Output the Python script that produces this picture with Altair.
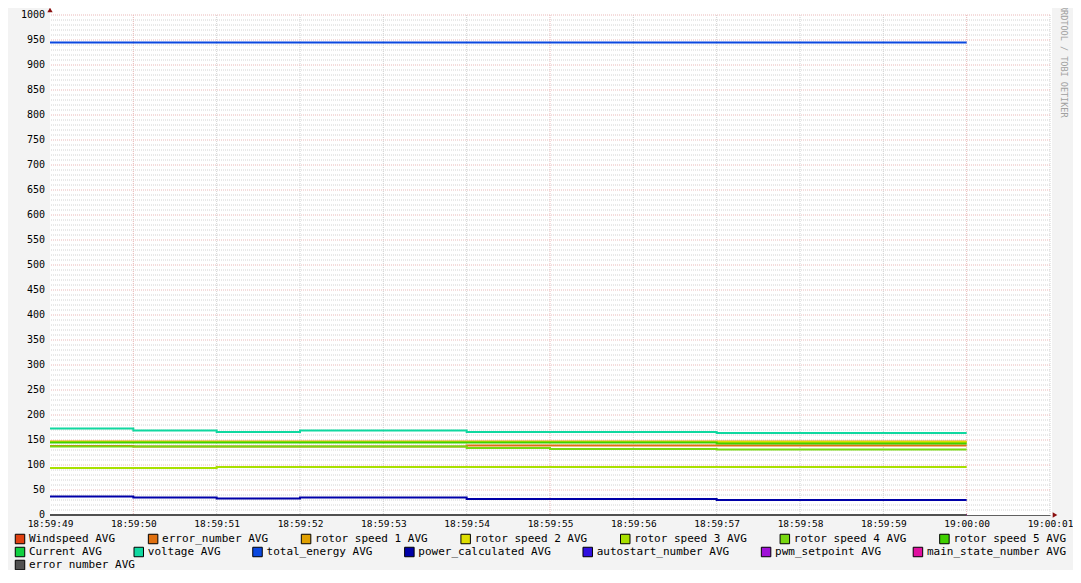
import altair as alt
import pandas as pd

# ---------------- data ----------------
tick_labels = ["18:59:49", "18:59:50", "18:59:51", "18:59:52", "18:59:53",
               "18:59:54", "18:59:55", "18:59:56", "18:59:57", "18:59:58",
               "18:59:59", "19:00:00", "19:00:01"]
major_ticks = ["18:59:50", "18:59:55", "19:00:00"]
y_ticks = [0, 50, 100, 150, 200, 250, 300, 350, 400, 450, 500,
           550, 600, 650, 700, 750, 800, 850, 900, 950, 1000]

series_names = ["Windspeed AVG", "error_number AVG", "rotor speed 1 AVG",
                "rotor speed 2 AVG", "rotor speed 3 AVG", "rotor speed 4 AVG",
                "rotor speed 5 AVG", "Current AVG", "voltage AVG",
                "total_energy AVG", "power_calculated AVG", "autostart_number AVG",
                "pwm_setpoint AVG", "main_state_number AVG", "error_number AVG"]
series_colors = ["#e04010", "#e07010", "#e0a000", "#dede00", "#a8e000",
                 "#78d810", "#40d000", "#10d040", "#10d8a0", "#0a48e0",
                 "#0000a8", "#3010e0", "#a010d8", "#e010a0", "#505050"]

# one value per second interval (18:59:49 -> 19:00:00)
windspeed = [0, 0, 0, 0, 0, 0, 0, 0, 0, 0, 0]
error_number = [138, 137, 137, 137, 137, 139, 139, 139, 139, 139, 139]
rotor1 = [147, 147, 147, 147, 147, 147, 147, 147, 147, 147, 147]
rotor2 = [146, 146, 146, 146, 146, 146, 146, 146, 146, 146, 146]
rotor3 = [94, 94, 96, 96, 96, 96, 96, 96, 96, 96, 96]
rotor4 = [137, 137, 137, 137, 137, 134, 132, 132, 131, 131, 131]
rotor5 = [145, 145, 145, 145, 145, 145, 145, 145, 143, 143, 143]
current = [0, 0, 0, 0, 0, 0, 0, 0, 0, 0, 0]
voltage = [173, 169, 166, 169, 169, 166, 166, 166, 164, 164, 164]
total_energy = [945, 945, 945, 945, 945, 945, 945, 945, 945, 945, 945]
power_calc = [37, 35, 33, 35, 35, 32, 32, 32, 30, 30, 30]
autostart = [0, 0, 0, 0, 0, 0, 0, 0, 0, 0, 0]
pwm = [0, 0, 0, 0, 0, 0, 0, 0, 0, 0, 0]
main_state = [0, 0, 0, 0, 0, 0, 0, 0, 0, 0, 0]
error_number2 = [0, 0, 0, 0, 0, 0, 0, 0, 0, 0, 0]

all_series = [windspeed, error_number, rotor1, rotor2, rotor3, rotor4, rotor5,
              current, voltage, total_energy, power_calc, autostart, pwm,
              main_state, error_number2]

# ---------------- tables ----------------
rows = []
for sid, vals in enumerate(all_series):
    for i, v in enumerate(vals):
        rows.append({"sid": sid, "sec": i, "v": v})
    rows.append({"sid": sid, "sec": len(vals), "v": vals[-1]})  # close last step
df = pd.DataFrame(rows)

n_ticks = len(tick_labels)
major_idx = [tick_labels.index(t) for t in major_ticks]
vgrid_minor = pd.DataFrame({"sec": [i for i in range(1, n_ticks) if i not in major_idx]})
vgrid_major = pd.DataFrame({"sec": major_idx})
hgrid_minor = pd.DataFrame({"v": [y for y in range(10, 1000, 10) if y % 50 != 0]})
hgrid_major = pd.DataFrame({"v": [y for y in y_ticks if y > 0]})
ylab_df = pd.DataFrame({"v": y_ticks, "lab": [str(y) for y in y_ticks]})

# legend layout (RRDtool style, justified rows of 7)
LEG_FONT = 11
cw = LEG_FONT * 0.602
per_row = 7
left, right = -35, 1016
leg = []
groups = [list(range(i, min(i + per_row, len(series_names))))
          for i in range(0, len(series_names), per_row)]
for r, grp in enumerate(groups):
    widths = [14 + len(series_names[s]) * cw for s in grp]
    if r < len(groups) - 1 and len(grp) > 1:
        gap = (right - left - sum(widths)) / (len(grp) - 1)
    else:
        gap = 25
    x = left
    for s, w in zip(grp, widths):
        leg.append({"sid": s, "label": series_names[s], "bx": x + 5,
                    "tx": x + 14, "ly": 524 + 13 * r})
        x += w + gap
leg_df = pd.DataFrame(leg)

label_expr = "[" + ",".join("'%s'" % t for t in tick_labels) + "][datum.value]"

x_scale = alt.Scale(domain=[0, n_ticks - 1], nice=False, zero=False)
y_scale = alt.Scale(domain=[0, 1000], nice=False)
color_scale = alt.Scale(domain=list(range(len(series_names))), range=series_colors)

x_axis = alt.Axis(values=list(range(n_ticks)), labelExpr=label_expr, title=None,
                  grid=False, ticks=False, domainColor="#606060",
                  labelFont="DejaVu Sans Mono", labelFontSize=9.5,
                  labelColor="#000000", labelPadding=3, labelFlush=False,
                  labelOverlap=False)
y_axis = alt.Axis(values=y_ticks, title=None, labels=False,
                  grid=False, ticks=False, domainColor="#606060")

dummy = alt.Data(values=[{"a": 1}])

bg = alt.Chart(dummy).mark_rect(fill="white").encode(
    x=alt.value(0), x2=alt.value(1002), y=alt.value(-10), y2=alt.value(500))

MINOR = "#d2d2d2"
MAJOR = "#e9b8b8"
vmin = alt.Chart(vgrid_minor).mark_rule(color=MINOR, strokeDash=[1, 1], strokeWidth=1).encode(
    x=alt.X("sec:Q", scale=x_scale, axis=x_axis))
vmaj = alt.Chart(vgrid_major).mark_rule(color=MAJOR, strokeDash=[1, 1], strokeWidth=1).encode(
    x=alt.X("sec:Q", scale=x_scale, axis=x_axis))
hmin = alt.Chart(hgrid_minor).mark_rule(color=MINOR, strokeDash=[1, 1], strokeWidth=1).encode(
    y=alt.Y("v:Q", scale=y_scale, axis=y_axis))
hmaj = alt.Chart(hgrid_major).mark_rule(color=MAJOR, strokeDash=[1, 1], strokeWidth=1).encode(
    y=alt.Y("v:Q", scale=y_scale, axis=y_axis))

ylabels = alt.Chart(ylab_df).mark_text(align="right", baseline="middle",
                                       font="DejaVu Sans Mono", fontSize=10,
                                       color="#000000").encode(
    x=alt.value(-5), y=alt.Y("v:Q", scale=y_scale, axis=y_axis), text="lab:N")

lines = alt.Chart(df).mark_line(interpolate="step-after", strokeWidth=2).encode(
    x=alt.X("sec:Q", scale=x_scale, axis=x_axis),
    y=alt.Y("v:Q", scale=y_scale, axis=y_axis),
    color=alt.Color("sid:N", scale=color_scale, legend=None),
    detail="sid:N",
)

arrow_y = alt.Chart(dummy).mark_point(shape="triangle-up", filled=True, color="#8b1010",
                                      size=28, opacity=1, yOffset=-5).encode(
    x=alt.XDatum(0, axis=x_axis), y=alt.YDatum(1000, axis=y_axis))
arrow_x = alt.Chart(dummy).mark_point(shape="triangle-right", filled=True, color="#8b1010",
                                      size=28, opacity=1, xOffset=5).encode(
    x=alt.XDatum(n_ticks - 1, axis=x_axis), y=alt.YDatum(0, axis=y_axis))

leg_box = alt.Chart(leg_df).mark_square(size=90, stroke="#000000", strokeWidth=1,
                                        opacity=1).encode(
    x=alt.X("bx:Q", scale=None), y=alt.Y("ly:Q", scale=None),
    color=alt.Color("sid:N", scale=color_scale, legend=None))
leg_txt = alt.Chart(leg_df).mark_text(align="left", baseline="middle", font="DejaVu Sans Mono",
                                      fontSize=LEG_FONT, color="#000000").encode(
    x=alt.X("tx:Q", scale=None), y=alt.Y("ly:Q", scale=None), text="label:N")

side = alt.Chart(dummy).mark_text(text="RRDTOOL / TOBI OETIKER", angle=90, align="left",
                                  baseline="middle", font="DejaVu Sans Mono", fontSize=8.5,
                                  color="#a0a0a0").encode(
    x=alt.value(1014), y=alt.value(-10))

chart = alt.layer(bg, hmin, vmin, hmaj, vmaj, lines, ylabels, arrow_y, arrow_x,
                  leg_box, leg_txt, side).properties(
    width=1000, height=500,
    autosize=alt.AutoSizeParams(type="none"),
    padding={"left": 42, "top": 7, "right": 23, "bottom": 55},
    background="#f3f3f3",
).configure_view(fill="white", strokeWidth=0)

chart.save("out.html", embed_options={"renderer": "svg", "actions": False})
